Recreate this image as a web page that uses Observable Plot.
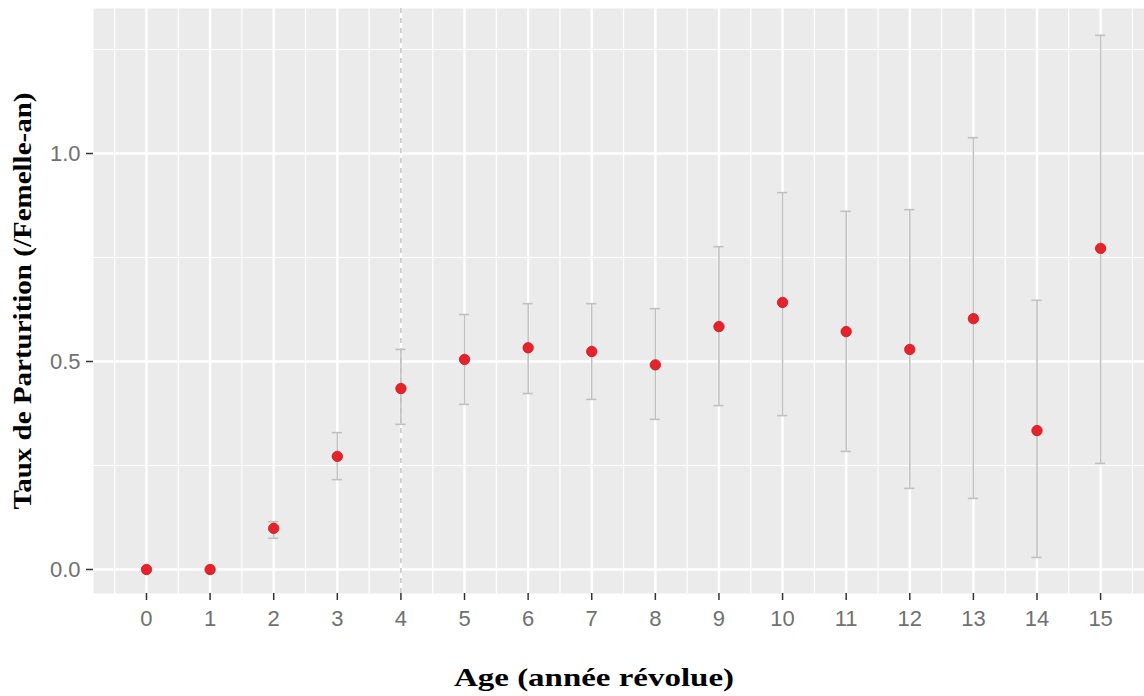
<!DOCTYPE html>
<html><head><meta charset="utf-8">
<script src="https://cdn.jsdelivr.net/npm/d3@7"></script>
<script src="https://cdn.jsdelivr.net/npm/@observablehq/plot@0.6"></script>
<style>html,body{margin:0;padding:0;background:#fff} svg{display:block}</style>
</head><body><div id="chart"></div>
<script>
// ---- data ----
const ages   = [0, 1, 2, 3, 4, 5, 6, 7, 8, 9, 10, 11, 12, 13, 14, 15];
const rates  = [0, 0, 0.099, 0.272, 0.435, 0.505, 0.533, 0.524, 0.492, 0.584, 0.642, 0.572, 0.529, 0.603, 0.334, 0.772];
const lower  = [null, null, 0.075, 0.216, 0.349, 0.397, 0.423, 0.409, 0.361, 0.394, 0.370, 0.284, 0.195, 0.171, 0.029, 0.255];
const upper  = [null, null, 0.115, 0.329, 0.529, 0.613, 0.639, 0.639, 0.627, 0.776, 0.906, 0.861, 0.865, 1.038, 0.647, 1.284];
const xTickLabels = ["0","1","2","3","4","5","6","7","8","9","10","11","12","13","14","15"];
const xMinor = [-0.5, 0.5, 1.5, 2.5, 3.5, 4.5, 5.5, 6.5, 7.5, 8.5, 9.5, 10.5, 11.5, 12.5, 13.5, 14.5, 15.5];
const yTicks = [0, 0.5, 1.0];
const yTickLabels = ["0.0", "0.5", "1.0"];
const yMinor = [0.25, 0.75, 1.25];
const refAge = [4];
const xTitle = "Age (année révolue)";
const yTitle = "Taux de Parturition (/Femelle-an)";

// ---- tables built from the arrays ----
const data = ages.map((a, i) => ({age: a, rate: rates[i], lo: lower[i], hi: upper[i]}));
const bars = data.filter(d => d.lo != null);
const xLabelOf = new Map(ages.map((a, i) => [a, xTickLabels[i]]));
const yLabelOf = new Map(yTicks.map((v, i) => [v, yTickLabels[i]]));

const capHalf = 0.08;
const sans = "'Liberation Sans', Arial, sans-serif";
const serif = "'Liberation Serif', 'Times New Roman', serif";

const chart = Plot.plot({
  width: 1144, height: 696,
  marginLeft: 93, marginRight: 0, marginTop: 8, marginBottom: 103,
  x: {domain: [-0.833, 15.69]},
  y: {domain: [-0.0577, 1.3486]},
  style: {background: "#fff", overflow: "visible"},
  marks: [
    Plot.frame({fill: "#EBEBEB", stroke: "none"}),
    Plot.gridX(xMinor, {stroke: "#fff", strokeOpacity: 1, strokeWidth: 1.2}),
    Plot.gridY(yMinor, {stroke: "#fff", strokeOpacity: 1, strokeWidth: 1.2}),
    Plot.gridX(ages, {stroke: "#fff", strokeOpacity: 1, strokeWidth: 2.4}),
    Plot.gridY(yTicks, {stroke: "#fff", strokeOpacity: 1, strokeWidth: 2.4}),
    Plot.ruleX(refAge, {stroke: "#c6c6c6", strokeWidth: 1.6, strokeDasharray: "5,5"}),
    Plot.ruleX(bars, {x: "age", y1: "lo", y2: "hi", stroke: "#c0c0c0", strokeWidth: 1.6}),
    Plot.ruleY(bars, {y: "lo", x1: d => d.age - capHalf, x2: d => d.age + capHalf, stroke: "#c0c0c0", strokeWidth: 1.6}),
    Plot.ruleY(bars, {y: "hi", x1: d => d.age - capHalf, x2: d => d.age + capHalf, stroke: "#c0c0c0", strokeWidth: 1.6}),
    Plot.dot(data, {x: "age", y: "rate", r: 5.2, fill: "#E8222B", stroke: "#c8141c", strokeWidth: 0.8}),
    Plot.axisX(ages, {tickSize: 7, tickPadding: 10, fontSize: 22, fontFamily: sans, stroke: "#333", fill: "#707070",
      strokeWidth: 1.5, tickFormat: d => xLabelOf.get(d), label: null}),
    Plot.axisY(yTicks, {tickSize: 7, tickPadding: 6, fontSize: 22, fontFamily: sans, stroke: "#333", fill: "#707070",
      strokeWidth: 1.5, tickFormat: d => yLabelOf.get(d), label: null}),
    Plot.text([xTitle], {text: d => d, frameAnchor: "bottom", textAnchor: "middle", lineAnchor: "middle",
      dx: -25, dy: 84, fontSize: 26, fontWeight: "bold", fontFamily: serif, fill: "#000", className: "xtitle"}),
    Plot.text([yTitle], {text: d => d, frameAnchor: "left", textAnchor: "middle", lineAnchor: "middle",
      dx: -71, rotate: -90, fontSize: 26, fontWeight: "bold", fontFamily: serif, fill: "#000", className: "ytitle"})
  ]
});

d3.select(chart).selectAll(".xtitle text").attr("textLength", 280).attr("lengthAdjust", "spacingAndGlyphs");
d3.select(chart).selectAll(".ytitle text").attr("textLength", 417).attr("lengthAdjust", "spacingAndGlyphs");

document.getElementById("chart").appendChild(chart);
</script>
</body></html>
